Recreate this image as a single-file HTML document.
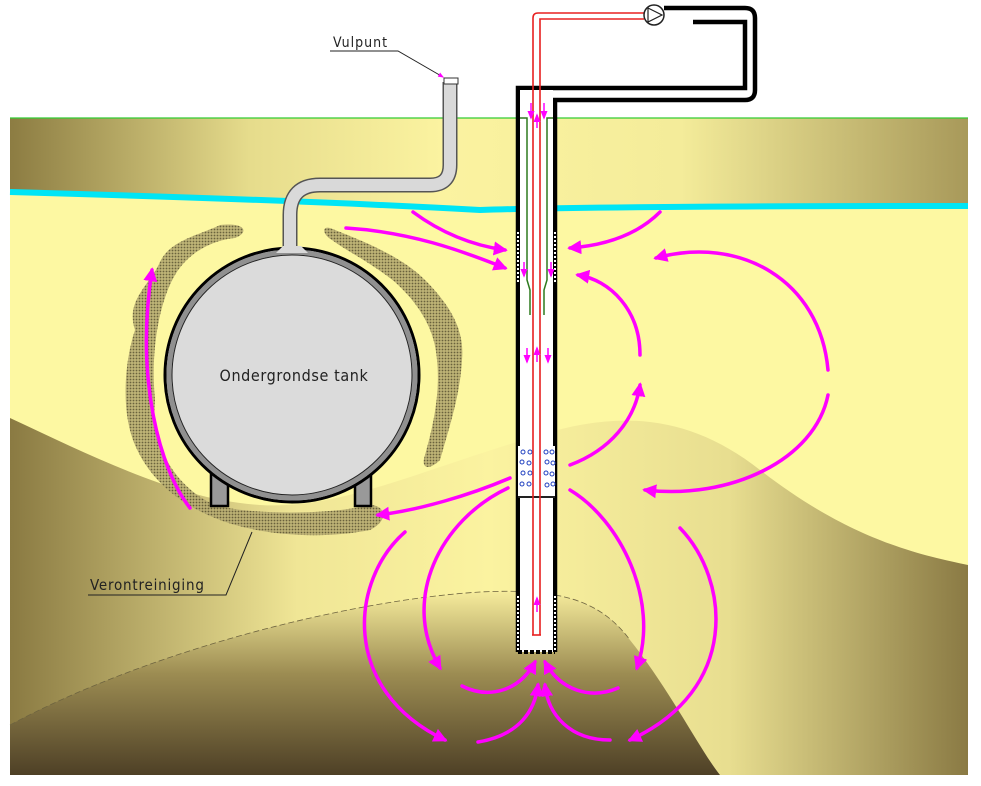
<!DOCTYPE html>
<html><head><meta charset="utf-8"><style>
html,body{margin:0;padding:0;background:#fff;}
svg{display:block;}
text{font-family:"DejaVu Sans Condensed","Liberation Sans",sans-serif;}
</style></head><body>
<svg width="981" height="786" viewBox="0 0 981 786" xmlns="http://www.w3.org/2000/svg">
<defs>
<linearGradient id="gtop" x1="0" x2="1" y1="0" y2="0">
<stop offset="0" stop-color="#8c7c42"/><stop offset="0.25" stop-color="#e6dc8c"/><stop offset="0.45" stop-color="#fbf3a0"/><stop offset="0.7" stop-color="#f4ec9a"/><stop offset="1" stop-color="#a8995a"/></linearGradient>
<linearGradient id="gmid" x1="0" x2="1" y1="0" y2="0">
<stop offset="0" stop-color="#8a7a42"/><stop offset="0.3" stop-color="#f0e696"/><stop offset="0.5" stop-color="#fbf3a0"/><stop offset="0.75" stop-color="#e8de90"/><stop offset="1" stop-color="#8a7a44"/></linearGradient>
<linearGradient id="gbot" x1="0" x2="0" y1="0" y2="1">
<stop offset="0" stop-color="#f6ec9c"/><stop offset="0.45" stop-color="#9c8c52"/><stop offset="1" stop-color="#4e4026"/></linearGradient>
<pattern id="hatch" width="3" height="3" patternUnits="userSpaceOnUse"><rect width="3" height="3" fill="#b8ad72"/><circle cx="1.5" cy="1.5" r="0.9" fill="#5a5232"/></pattern>
<marker id="ah" viewBox="0 0 10 10" refX="8" refY="5" markerWidth="4" markerHeight="4" orient="auto" markerUnits="strokeWidth"><path d="M0,0 L10,5 L0,10 z" fill="#ff00ff"/></marker>
<marker id="sa" viewBox="0 0 10 10" refX="8" refY="5" markerWidth="6" markerHeight="6" orient="auto"><path d="M0,1 L10,5 L0,9 z" fill="#ff00ff"/></marker>
</defs>
<rect x="10" y="118" width="958" height="657" fill="#fdf8a2"/>
<path d="M10,118 H968 V207 Q600,206 480,210 Q300,200 10,190 Z" fill="url(#gtop)"/>
<line x1="10" y1="118" x2="968" y2="118" stroke="#33cc33" stroke-width="1.2"/>
<path d="M10,418 C100,460 180,500 260,505 C340,510 420,470 540,435 C620,410 690,415 760,470 C850,540 920,555 968,565 V775 H10 Z" fill="url(#gmid)"/>
<path d="M10,725 C150,650 350,600 480,592 C560,588 600,600 630,640 C670,690 700,750 720,775 H10 Z" fill="url(#gbot)"/>
<path d="M10,725 C150,650 350,600 480,592 C560,588 600,600 630,640" fill="none" stroke="#6e6440" stroke-width="0.8" stroke-dasharray="6,3"/>
<path d="M10,192 Q300,200 480,210 Q600,206 968,206" fill="none" stroke="#00e5f5" stroke-width="6"/>
<g fill="url(#hatch)" opacity="0.9">
<path d="M220,225 C200,235 170,240 160,262 C150,285 125,300 135,330 C125,360 120,410 135,445 C150,480 180,505 220,520 C260,535 320,540 370,530 C390,520 385,505 370,505 C330,515 250,515 215,505 C180,490 150,450 155,400 C150,350 160,300 175,275 C190,250 215,240 235,238 C250,232 245,222 220,225 Z"/>
<path d="M330,228 C360,240 400,255 425,280 C450,305 465,330 462,360 C460,395 450,425 440,460 C430,470 420,470 425,455 C435,420 440,390 437,360 C435,330 420,305 395,282 C370,262 345,250 332,240 C322,234 322,226 330,228 Z"/>
</g>
<path d="M290,250 V215 Q290,185 320,185 H430 Q450,185 450,165 V82" fill="none" stroke="#555" stroke-width="15"/>
<path d="M290,252 V215 Q290,185 320,185 H430 Q450,185 450,165 V82" fill="none" stroke="#d9d9d9" stroke-width="12"/>
<rect x="444" y="78" width="14" height="6" fill="#fff" stroke="#333" stroke-width="1"/>
<rect x="211" y="470" width="17" height="36" fill="#999" stroke="#000" stroke-width="2.5"/>
<rect x="355" y="470" width="16" height="36" fill="#999" stroke="#000" stroke-width="2.5"/>
<circle cx="292" cy="375" r="127" fill="#d9d9d9" stroke="#000" stroke-width="3"/>
<circle cx="292" cy="375" r="123" fill="none" stroke="#909090" stroke-width="5"/>
<circle cx="292" cy="375" r="120" fill="#dbdbdb" stroke="#222" stroke-width="1"/>
<path d="M283,246 L276,253 L308,253 L301,246 Z" fill="#d9d9d9"/>
<text x="294" y="381" font-size="16" letter-spacing="0.6" text-anchor="middle" fill="#222">Ondergrondse tank</text>
<text x="333" y="47" font-size="14" letter-spacing="1" fill="#222">Vulpunt</text>
<polyline points="330,51 398,51 443,77" fill="none" stroke="#222" stroke-width="1" marker-end="url(#sa)"/>
<text x="90" y="590" font-size="15" letter-spacing="0.8" fill="#222">Verontreiniging</text>
<polyline points="88,595 226,595 252,532" fill="none" stroke="#222" stroke-width="1"/>
<path d="M518,652 V88 H745 V22 H693" fill="none" stroke="#000" stroke-width="4.5"/>
<path d="M555,652 V100 H745 Q755,100 755,90 V18 Q755,8 745,8 H664" fill="none" stroke="#000" stroke-width="4.5"/>
<rect x="520" y="90" width="33" height="562" fill="#fff"/>
<g stroke="#fff" stroke-width="2" stroke-dasharray="2,2">
<line x1="518" y1="232" x2="518" y2="282"/><line x1="555" y1="232" x2="555" y2="282"/>
<line x1="518" y1="596" x2="518" y2="650"/><line x1="555" y1="596" x2="555" y2="650"/>
</g>
<line x1="518" y1="652" x2="555" y2="652" stroke="#000" stroke-width="4" stroke-dasharray="4,2"/>
<rect x="518" y="446" width="37" height="50" fill="#fff"/>
<g fill="none" stroke="#2040c0" stroke-width="1">
<circle cx="523" cy="452" r="2"/><circle cx="530" cy="452" r="2"/><circle cx="546" cy="452" r="2"/><circle cx="552" cy="452" r="2"/>
<circle cx="522" cy="462" r="2"/><circle cx="529" cy="463" r="2"/><circle cx="547" cy="462" r="2"/><circle cx="553" cy="463" r="2"/>
<circle cx="523" cy="473" r="2"/><circle cx="530" cy="473" r="2"/><circle cx="546" cy="473" r="2"/><circle cx="552" cy="474" r="2"/>
<circle cx="522" cy="484" r="2"/><circle cx="529" cy="484" r="2"/><circle cx="547" cy="485" r="2"/><circle cx="553" cy="484" r="2"/>
</g>
<line x1="518" y1="497" x2="555" y2="497" stroke="#222" stroke-width="2"/>
<path d="M520,118 H527 V280 L530,290 V315" fill="none" stroke="#2e7a1e" stroke-width="1.5"/>
<path d="M553,118 H547 V280 L544,290 V315" fill="none" stroke="#2e7a1e" stroke-width="1.5"/>
<path d="M533,635 V18 Q533,13 538,13 H644" fill="none" stroke="#e82020" stroke-width="1.6"/>
<path d="M540,635 V19 H644" fill="none" stroke="#e82020" stroke-width="1.6"/>
<line x1="532" y1="635" x2="541" y2="635" stroke="#e82020" stroke-width="1.6"/>
<circle cx="654" cy="15" r="10" fill="#fff" stroke="#222" stroke-width="1.5"/>
<path d="M648,8 L662,15 L648,22 Z" fill="none" stroke="#222" stroke-width="1.2"/>
<g stroke="#ff00ff" stroke-width="1.5" fill="none">
<line x1="531" y1="103" x2="531" y2="118" marker-end="url(#sa)"/>
<line x1="544" y1="103" x2="544" y2="118" marker-end="url(#sa)"/>
<line x1="537" y1="128" x2="537" y2="115" marker-end="url(#sa)"/>
<line x1="524" y1="262" x2="524" y2="276" marker-end="url(#sa)"/>
<line x1="551" y1="262" x2="551" y2="276" marker-end="url(#sa)"/>
<line x1="527" y1="348" x2="527" y2="362" marker-end="url(#sa)"/>
<line x1="537" y1="362" x2="537" y2="348" marker-end="url(#sa)"/>
<line x1="548" y1="348" x2="548" y2="362" marker-end="url(#sa)"/>
<line x1="537" y1="612" x2="537" y2="598" marker-end="url(#sa)"/>
</g>
<g stroke="#ff00ff" stroke-width="3.5" fill="none" stroke-linecap="round" marker-end="url(#ah)">
<path d="M346,228 C410,232 460,250 505,268"/>
<path d="M413,212 C440,232 470,245 505,250"/>
<path d="M660,212 C640,232 610,245 570,248"/>
<path d="M828,370 C820,280 740,235 656,258"/>
<path d="M828,395 C815,460 730,500 645,490"/>
<path d="M640,355 C640,310 610,280 578,275"/>
<path d="M570,465 C610,450 635,420 640,385"/>
<path d="M510,478 C470,495 420,510 378,515"/>
<path d="M190,508 C160,470 135,380 152,270"/>
<path d="M508,488 C440,520 400,600 440,668"/>
<path d="M570,490 C620,520 660,600 637,668"/>
<path d="M405,532 C350,580 340,690 445,740"/>
<path d="M680,528 C730,580 740,690 630,740"/>
<path d="M462,686 C490,700 520,690 535,662"/>
<path d="M618,688 C590,700 560,690 545,662"/>
<path d="M478,742 C520,735 535,710 538,685"/>
<path d="M610,740 C570,740 548,715 545,685"/>
</g>
</svg>
</body></html>
